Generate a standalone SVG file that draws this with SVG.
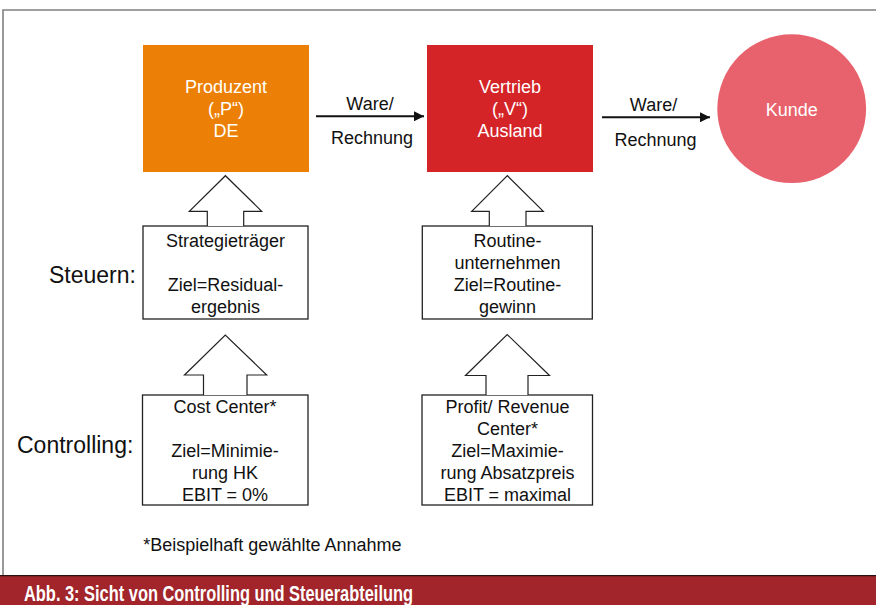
<svg xmlns="http://www.w3.org/2000/svg" width="876" height="605" viewBox="0 0 876 605">
<defs>
<style>
.t{font-family:"Liberation Sans",Arial,sans-serif;font-size:18px;text-anchor:middle;fill:#111}
.w{fill:#fff}
.lbl{font-family:"Liberation Sans",Arial,sans-serif;font-size:23px;fill:#111}
.box{fill:#fff;stroke:#222;stroke-width:1.3}
.ha{fill:#fff;stroke:#222;stroke-width:1.2;stroke-linejoin:miter}
.ln{stroke:#111;stroke-width:2;fill:none}
</style>
<marker id="ah" viewBox="0 0 10 10" refX="10" refY="5" markerWidth="5" markerHeight="5" orient="auto" markerUnits="strokeWidth">
<path d="M0,0 L10,5 L0,10 z" fill="#111"/>
</marker>
</defs>
<rect x="0" y="0" width="876" height="605" fill="#fff"/>
<path d="M3,577 L3,10 L876,10" fill="none" stroke="#808080" stroke-width="1.6"/>

<g id="produzent">
<rect x="143" y="45" width="166" height="127" fill="#EC7F05"/>
<text class="t w" x="226" y="93">Produzent</text>
<text class="t w" x="226" y="115">(„P“)</text>
<text class="t w" x="226" y="137">DE</text>
</g>
<g id="vertrieb">
<rect x="427" y="45" width="166" height="127" fill="#D52428"/>
<text class="t w" x="510" y="93">Vertrieb</text>
<text class="t w" x="510" y="115">(„V“)</text>
<text class="t w" x="510" y="137">Ausland</text>
</g>
<g id="kunde">
<circle cx="791.7" cy="108.7" r="74.4" fill="#E8626E"/>
<text class="t w" x="791.7" y="116">Kunde</text>
</g>

<g id="strategietraeger">
<rect class="box" x="143" y="226" width="165" height="93"/>
<text class="t" x="225.5" y="247">Strategieträger</text>
<text class="t" x="225.5" y="291">Ziel=Residual-</text>
<text class="t" x="225.5" y="313">ergebnis</text>
</g>
<g id="routine">
<rect class="box" x="422.3" y="226" width="170" height="93"/>
<text class="t" x="507.5" y="247">Routine-</text>
<text class="t" x="507.5" y="269">unternehmen</text>
<text class="t" x="507.5" y="291">Ziel=Routine-</text>
<text class="t" x="507.5" y="313">gewinn</text>
</g>
<g id="costcenter">
<rect class="box" x="142.5" y="395" width="165.5" height="110"/>
<text class="t" x="225" y="413">Cost Center*</text>
<text class="t" x="225" y="457">Ziel=Minimie-</text>
<text class="t" x="225" y="479">rung HK</text>
<text class="t" x="225" y="501">EBIT = 0%</text>
</g>
<g id="profitcenter">
<rect class="box" x="422" y="395" width="170.5" height="110"/>
<text class="t" x="507.5" y="413">Profit/ Revenue</text>
<text class="t" x="507.5" y="435">Center*</text>
<text class="t" x="507.5" y="457">Ziel=Maximie-</text>
<text class="t" x="507.5" y="479">rung Absatzpreis</text>
<text class="t" x="507.5" y="501">EBIT = maximal</text>
</g>

<g id="connectors">
<line class="ln" x1="316" y1="116.3" x2="424" y2="116.3" marker-end="url(#ah)"/>
<line class="ln" x1="602" y1="117.3" x2="710" y2="117.3" marker-end="url(#ah)"/>
<path class="ha" d="M207.3,226 L207.3,211.3 L189.3,211.3 L225.4,175.7 L261.7,211.3 L243.7,211.3 L243.7,226"/>
<path class="ha" d="M489.3,226 L489.3,211.3 L471.7,211.3 L507.4,175.7 L543.3,211.3 L526,211.3 L526,226"/>
<path class="ha" d="M203.5,395 L203.5,375 L184.5,375 L225.3,335 L266.7,375 L247,375 L247,395"/>
<path class="ha" d="M486,395 L486,375.5 L465.5,375.5 L507.2,334.5 L549.5,375.5 L528,375.5 L528,395"/>
</g>

<g id="labels">
<text class="t" x="370" y="109.5">Ware/</text>
<text class="t" x="372" y="143.5">Rechnung</text>
<text class="t" x="653.5" y="111">Ware/</text>
<text class="t" x="655.5" y="145.5">Rechnung</text>
<text class="lbl" x="49" y="283.3">Steuern:</text>
<text class="lbl" x="17" y="453.3">Controlling:</text>
<text class="t" x="143.3" y="551" style="text-anchor:start">*Beispielhaft gewählte Annahme</text>
</g>

<g id="caption">
<rect x="0" y="576" width="876" height="29" fill="#A1252A"/>
<line x1="0" y1="575.7" x2="876" y2="575.7" stroke="#2a1010" stroke-width="1.2"/>
<text x="24" y="601" font-family="'Liberation Sans Narrow','Liberation Sans',Arial,sans-serif" font-weight="bold" font-size="22" fill="#fff" textLength="389" lengthAdjust="spacingAndGlyphs">Abb. 3: Sicht von Controlling und Steuerabteilung</text>
</g>
</svg>
